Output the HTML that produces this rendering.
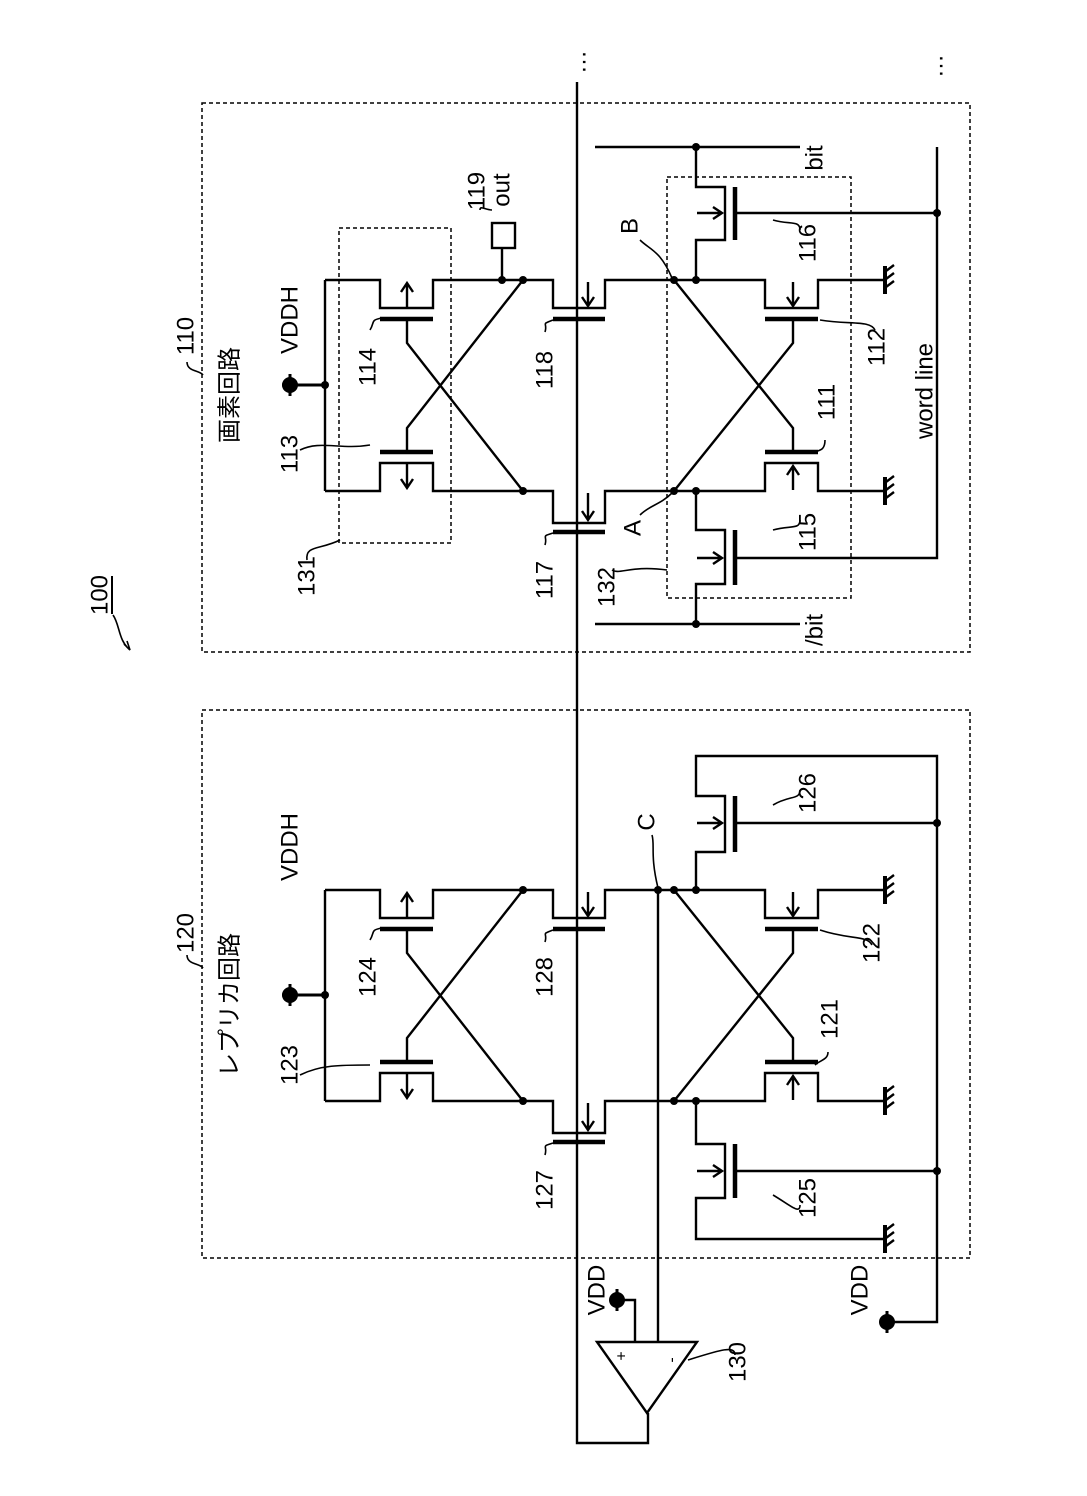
<!DOCTYPE html>
<html><head><meta charset="utf-8"><style>
html,body{margin:0;padding:0;background:#fff}
svg{display:block}
text{font-family:"Liberation Sans","Noto Sans CJK JP",sans-serif;font-size:24px;fill:#000}
</style></head><body>
<svg width="1087" height="1496" viewBox="0 0 1087 1496" xmlns="http://www.w3.org/2000/svg">
<defs>
<g id="latch" fill="none" stroke="#000" stroke-width="2.4">
  <path d="M325 280 H380 V308 H433 V280 H553 V308 H605 V280 H765 V308 H818 V280 H885"/>
  <path d="M325 491 H380 V463 H433 V491 H553 V523 H605 V491 H765 V463 H818 V491 H885"/>
  <path d="M325 280 V491"/>
  <g stroke-width="4.5">
    <path d="M380 319 H433 M380 452 H433 M553 319 H605 M553 532 H605 M765 319 H818 M765 452 H818"/>
  </g>
  <path d="M407 319 V343 L523 491 M407 452 V428 L523 280 M793 319 V343 L674 491 M793 452 V428 L674 280"/>
  <path d="M407 308 V283 M401 292 L407 283 L413 292"/>
  <path d="M407 463 V488 M401 479 L407 488 L413 479"/>
  <path d="M588 282 V306 M582 297 L588 306 L594 297"/>
  <path d="M588 493 V520 M582 511 L588 520 L594 511"/>
  <path d="M793 282 V306 M787 297 L793 306 L799 297"/>
  <path d="M793 490 V466 M787 475 L793 466 L799 475"/>
  <path d="M282 385 H325" stroke-width="3"/>
  <path d="M885 266 V294 M885 477 V505" stroke-width="4"/>
  <path d="M886 271 L894 265 M886 279 L894 273 M886 287 L894 281 M886 482 L894 476 M886 490 L894 484 M886 498 L894 492"/>
</g>
<g id="dots">
  <circle cx="325" cy="385" r="4"/><circle cx="523" cy="280" r="4"/><circle cx="523" cy="491" r="4"/>
  <circle cx="674" cy="280" r="4"/><circle cx="696" cy="280" r="4"/><circle cx="674" cy="491" r="4"/><circle cx="696" cy="491" r="4"/>
  <circle cx="290" cy="385" r="8"/>
  <path d="M290 374 V396" stroke="#000" stroke-width="3"/>
</g>
</defs>

<g fill="none" stroke="#000" stroke-width="1.5" stroke-dasharray="4,3">
  <rect x="202" y="103" width="768" height="549"/>
  <rect x="202" y="710" width="768" height="548"/>
  <rect x="339" y="228" width="112" height="315"/>
  <rect x="667" y="177" width="184" height="421"/>
</g>

<use href="#latch"/><use href="#dots"/>
<use href="#latch" transform="translate(0,610)"/><use href="#dots" transform="translate(0,610)"/>

<g fill="none" stroke="#000" stroke-width="2.4">
  <path d="M577 82 V1443 H648 V1413"/>
  <path d="M502 280 V248"/>
  <rect x="492" y="223" width="23" height="25"/>
  <path d="M696 280 V240 H725 V187 H696 V147"/>
  <path d="M735 187 V240" stroke-width="4.5"/>
  <path d="M735 213 H937 M697 213 H722 M713 207 L722 213 L713 219"/>
  <path d="M696 491 V530 H725 V584 H696 V624"/>
  <path d="M735 530 V585" stroke-width="4.5"/>
  <path d="M735 558 H937 V147 M697 558 H722 M713 552 L722 558 L713 564"/>
  <path d="M595 147 H800 M595 624 H800"/>
  <path d="M658 890 V1342"/>
  <path d="M696 890 V852 H725 V796 H696 V756 H937 V1322 H887"/>
  <path d="M735 796 V852" stroke-width="4.5"/>
  <path d="M735 823 H937 M697 823 H722 M713 817 L722 823 L713 829"/>
  <path d="M696 1101 V1144 H725 V1198 H696 V1239 H885"/>
  <path d="M735 1144 V1198" stroke-width="4.5"/>
  <path d="M735 1171 H937 M697 1171 H722 M713 1165 L722 1171 L713 1177"/>
  <path d="M885 1225 V1253" stroke-width="4"/>
  <path d="M886 1230 L894 1224 M886 1238 L894 1232 M886 1246 L894 1240"/>
  <polygon points="597,1342 697,1342 647,1413"/>
  <path d="M635 1342 V1300 H617"/>
  <path d="M617 1289 V1311 M887 1311 V1333" stroke-width="3"/>
</g>
<g fill="none" stroke="#000" stroke-width="1.6">
  <path d="M187 362 C187 372 200 370 203 375"/>
  <path d="M187 955 C187 965 200 963 203 968"/>
  <path d="M113 615 C120 625 118 640 130 650 M124 644 L130 650 L127 641"/>
  <path d="M300 450 C320 440 340 450 370 445"/>
  <path d="M370 330 C375 322 370 320 382 318"/>
  <path d="M307 560 C305 545 320 550 340 540"/>
  <path d="M545 332 C548 322 540 325 553 320"/>
  <path d="M545 545 C548 535 540 537 553 533"/>
  <path d="M612 570 C620 575 630 565 667 570"/>
  <path d="M640 515 C650 505 660 505 672 493"/>
  <path d="M640 240 C650 250 660 250 672 278"/>
  <path d="M800 230 C800 220 790 225 773 220"/>
  <path d="M800 520 C800 530 790 525 773 530"/>
  <path d="M825 440 C825 450 820 450 815 452"/>
  <path d="M875 330 C870 320 850 325 820 320"/>
  <path d="M480 210 C480 205 485 210 492 210"/>
  <path d="M370 940 C375 932 370 930 382 928"/>
  <path d="M300 1075 C320 1065 340 1065 370 1065"/>
  <path d="M545 942 C548 932 540 935 553 930"/>
  <path d="M545 1155 C548 1145 540 1147 553 1143"/>
  <path d="M652 835 C655 845 650 855 658 888"/>
  <path d="M800 790 C800 800 790 795 773 805"/>
  <path d="M800 1205 C800 1215 790 1205 773 1195"/>
  <path d="M828 1052 C828 1060 820 1060 815 1065"/>
  <path d="M872 945 C867 935 850 940 820 930"/>
  <path d="M735 1355 C735 1345 720 1350 688 1360"/>
</g>
<g>
  <circle cx="658" cy="890" r="4"/>
  <circle cx="696" cy="147" r="4"/><circle cx="696" cy="624" r="4"/><circle cx="937" cy="213" r="4"/>
  <circle cx="502" cy="280" r="4"/>
  <circle cx="937" cy="823" r="4"/><circle cx="937" cy="1171" r="4"/>
  <circle cx="617" cy="1300" r="8"/><circle cx="887" cy="1322" r="8"/>
</g>
<path d="M112 576 V614" stroke="#000" stroke-width="2"/>

<g text-anchor="middle" dominant-baseline="central">
  <text transform="translate(100,595) rotate(-90)">100</text>
  <text transform="translate(186,336) rotate(-90)">110</text>
  <text transform="translate(230,395) rotate(-90)">画素回路</text>
  <text transform="translate(290,320) rotate(-90)">VDDH</text>
  <text transform="translate(290,454) rotate(-90)">113</text>
  <text transform="translate(368,367) rotate(-90)">114</text>
  <text transform="translate(307,576) rotate(-90)">131</text>
  <text transform="translate(545,370) rotate(-90)">118</text>
  <text transform="translate(545,580) rotate(-90)">117</text>
  <text transform="translate(607,587) rotate(-90)">132</text>
  <text transform="translate(633,528) rotate(-90)">A</text>
  <text transform="translate(630,226) rotate(-90)">B</text>
  <text transform="translate(808,243) rotate(-90)">116</text>
  <text transform="translate(808,532) rotate(-90)">115</text>
  <text transform="translate(827,402) rotate(-90)">111</text>
  <text transform="translate(877,347) rotate(-90)">112</text>
  <text transform="translate(925,391) rotate(-90)">word line</text>
  <text transform="translate(815,158) rotate(-90)">bit</text>
  <text transform="translate(815,630) rotate(-90)">/bit</text>
  <text transform="translate(477,191) rotate(-90)">119</text>
  <text transform="translate(502,190) rotate(-90)">out</text>
  <text transform="translate(578,62) rotate(-90)">…</text>
  <text transform="translate(935,66) rotate(-90)">…</text>

  <text transform="translate(186,933) rotate(-90)">120</text>
  <text transform="translate(230,1005) rotate(-90)">レプリカ回路</text>
  <text transform="translate(290,847) rotate(-90)">VDDH</text>
  <text transform="translate(290,1065) rotate(-90)">123</text>
  <text transform="translate(368,977) rotate(-90)">124</text>
  <text transform="translate(545,977) rotate(-90)">128</text>
  <text transform="translate(545,1190) rotate(-90)">127</text>
  <text transform="translate(647,822) rotate(-90)">C</text>
  <text transform="translate(808,793) rotate(-90)">126</text>
  <text transform="translate(808,1198) rotate(-90)">125</text>
  <text transform="translate(872,943) rotate(-90)">122</text>
  <text transform="translate(830,1019) rotate(-90)">121</text>
  <text transform="translate(597,1290) rotate(-90)">VDD</text>
  <text transform="translate(860,1290) rotate(-90)">VDD</text>
  <text transform="translate(738,1362) rotate(-90)">130</text>
  <text transform="translate(622,1356) rotate(-90)" style="font-size:16px">+</text>
  <text transform="translate(672,1360) rotate(-90)" style="font-size:16px">-</text>
</g>
</svg>
</body></html>
